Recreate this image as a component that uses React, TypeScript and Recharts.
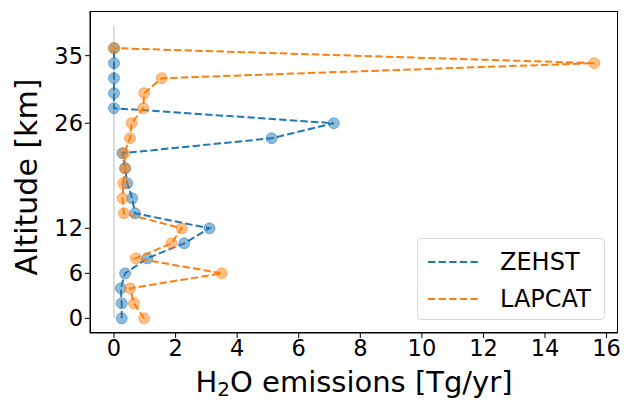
import React from 'react';
import { ScatterChart, Scatter, XAxis, YAxis } from 'recharts';

const altitudes = [0, 2, 4, 6, 8, 10, 12, 14, 16, 18, 20, 22, 24, 26, 28, 30, 32, 34, 36];
const zehstValues = [0.25, 0.25, 0.22, 0.36, 1.08, 2.28, 3.1, 0.68, 0.59, 0.43, 0.36, 0.27, 5.12, 7.14, 0, 0, 0, 0, 0];
const lapcatValues = [0.98, 0.65, 0.52, 3.5, 0.71, 1.87, 2.2, 0.32, 0.28, 0.3, 0.36, 0.33, 0.52, 0.57, 0.95, 0.98, 1.55, 15.6, 0];
const baselineAltitudes = [0, 39];
const xTicks = [0, 2, 4, 6, 8, 10, 12, 14, 16];
const yTicks = [0, 6, 12, 26, 35];
const seriesNames = ['ZEHST', 'LAPCAT'];

const zehstData = altitudes.map((y, i) => ({ x: zehstValues[i], y }));
const lapcatData = altitudes.map((y, i) => ({ x: lapcatValues[i], y }));
const baselineData = baselineAltitudes.map((y) => ({ x: 0, y }));

const BLUE = '#1f77b4';
const ORANGE = '#ff7f0e';
const COLORS = [BLUE, ORANGE];
const FONT = '"DejaVu Sans", sans-serif';
const DASH = '7.4 3.2';

const dot = (color: string) => (props: any) => (
  <circle
    cx={props.cx}
    cy={props.cy}
    r={5.5}
    fill={color}
    fillOpacity={0.5}
    stroke={color}
    strokeOpacity={0.5}
    strokeWidth={1}
  />
);

const XLabel = () => (
  <text x={354} y={392} textAnchor="middle" fontSize={29} fontFamily={FONT} fill="#000">
    H<tspan fontSize={20} dy={4}>2</tspan>
    <tspan dy={-4}>O emissions [Tg/yr]</tspan>
  </text>
);

const YLabel = () => (
  <text
    x={0}
    y={0}
    transform="translate(37 177) rotate(-90)"
    textAnchor="middle"
    fontSize={30}
    fontFamily={FONT}
    fill="#000"
  >
    Altitude [km]
  </text>
);

const LegendBox = () => (
  <div
    style={{
      position: 'absolute',
      left: 417,
      top: 238,
      boxSizing: 'border-box',
      width: 188,
      height: 82,
      border: '1px solid #d8d8d8',
      borderRadius: 4,
      background: 'rgba(255,255,255,0.8)',
      fontFamily: FONT,
      fontSize: 24,
      color: '#000',
      paddingTop: 4,
    }}
  >
    {seriesNames.map((name, i) => (
      <div key={name} style={{ display: 'flex', alignItems: 'center', height: 37 }}>
        <svg width={82} height={10}>
          <line x1={10} y1={5} x2={61} y2={5} stroke={COLORS[i]} strokeWidth={2} strokeDasharray={DASH} />
        </svg>
        <span>{name}</span>
      </div>
    ))}
  </div>
);

const App: React.FC = () => {
  return (
    <div style={{ position: 'absolute', left: 0, top: 0, width: 624, height: 401, background: '#fff' }}>
      <ScatterChart width={624} height={401} margin={{ top: 11, right: 6, bottom: 0, left: 0 }}>
        <XAxis
          type="number"
          dataKey="x"
          domain={[-0.78, 16.37]}
          ticks={xTicks}
          allowDataOverflow
          height={68}
          tickSize={5}
          tick={{ fontSize: 22.5, fontFamily: FONT, fill: '#000' }}
          tickLine={{ stroke: '#000' }}
          axisLine={{ stroke: '#000' }}
          label={<XLabel />}
        />
        <YAxis
          type="number"
          dataKey="y"
          domain={[-1.95, 40.95]}
          ticks={yTicks}
          allowDataOverflow
          width={90}
          tickSize={5}
          tick={{ fontSize: 22.5, fontFamily: FONT, fill: '#000' }}
          tickLine={{ stroke: '#000' }}
          axisLine={{ stroke: '#000' }}
          label={<YLabel />}
        />
        <Scatter
          data={baselineData}
          line={{ stroke: '#c4c4c4', strokeWidth: 1.2 }}
          shape={() => null}
          legendType="none"
          isAnimationActive={false}
        />
        <Scatter
          name={seriesNames[0]}
          data={zehstData}
          line={{ stroke: BLUE, strokeWidth: 2, strokeDasharray: DASH }}
          shape={dot(BLUE)}
          isAnimationActive={false}
        />
        <Scatter
          name={seriesNames[1]}
          data={lapcatData}
          line={{ stroke: ORANGE, strokeWidth: 2, strokeDasharray: DASH }}
          shape={dot(ORANGE)}
          isAnimationActive={false}
        />
      </ScatterChart>
      <div
        style={{
          position: 'absolute',
          left: 90,
          top: 11,
          width: 528,
          height: 322,
          boxSizing: 'border-box',
          border: '1px solid #000',
          pointerEvents: 'none',
        }}
      />
      <LegendBox />
    </div>
  );
};

export default App;
